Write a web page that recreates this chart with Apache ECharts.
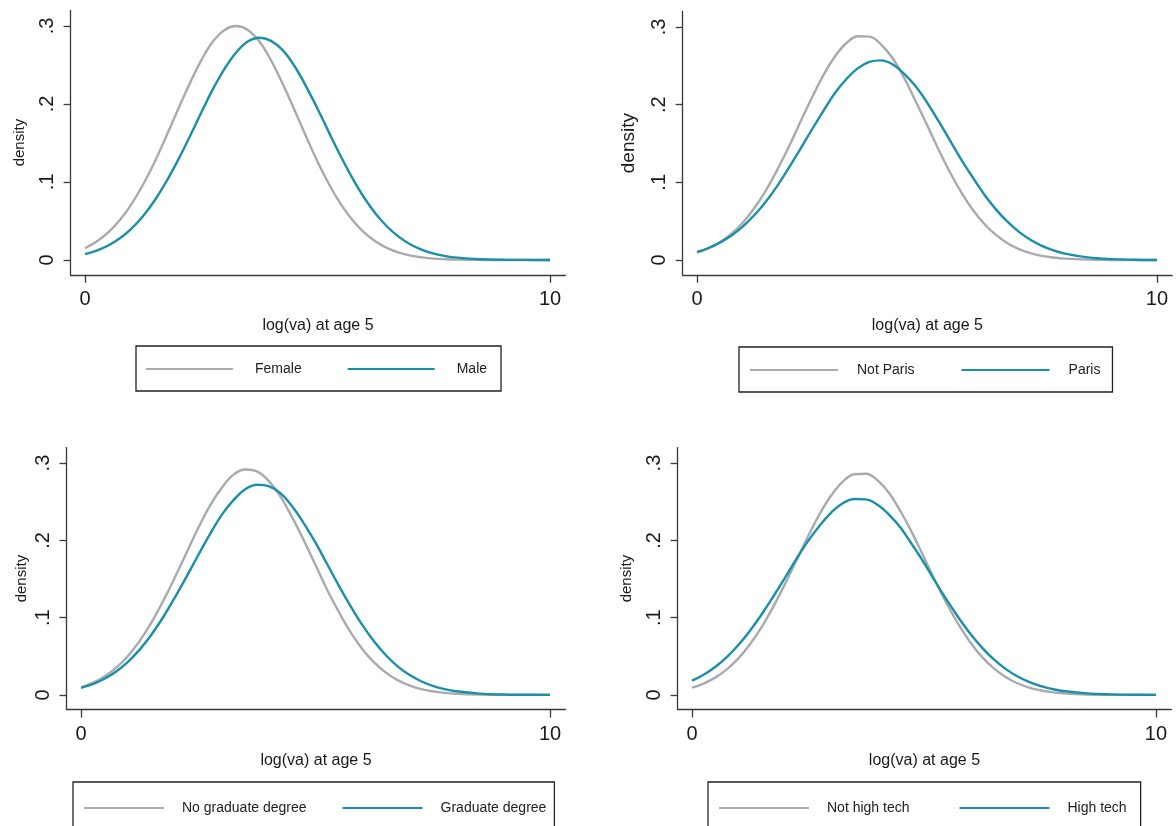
<!DOCTYPE html>
<html>
<head>
<meta charset="utf-8">
<script src="https://cdn.jsdelivr.net/npm/echarts@6/dist/echarts.min.js"></script>
<style>
html,body{margin:0;padding:0;background:#fff;}
#chart{width:1176px;height:826px;}
</style>
</head>
<body>
<div id="chart"></div>
<script>
// ---- data ----
const xs = [0,0.25,0.5,0.75,1,1.25,1.5,1.75,2,2.25,2.5,2.75,3,3.25,3.5,3.75,4,4.25,4.5,4.75,5,5.25,5.5,5.75,6,6.25,6.5,6.75,7,7.25,7.5,7.75,8,8.5,9,9.5,10];

const female      = [0.0152,0.0236,0.0354,0.0513,0.0717,0.0968,0.126,0.159,0.193,0.226,0.256,0.280,0.295,0.300,0.295,0.280,0.256,0.226,0.193,0.159,0.126,0.0968,0.0717,0.0513,0.0354,0.0236,0.0152,0.0094,0.0056,0.0033,0.0018,0.0010,0.0005,0.0001,0,0,0];
const male        = [0.0076,0.0121,0.0186,0.0278,0.0403,0.0564,0.0766,0.1006,0.128,0.158,0.189,0.219,0.245,0.266,0.280,0.285,0.281,0.269,0.249,0.223,0.194,0.163,0.133,0.105,0.0801,0.0593,0.0426,0.0296,0.0199,0.0130,0.0082,0.0050,0.0030,0.0009,0.0003,0.0001,0];
const notParis    = [0.0095,0.0149,0.0228,0.0338,0.0484,0.0670,0.0898,0.1165,0.146,0.178,0.209,0.238,0.262,0.2793,0.2881,0.2875,0.2777,0.260,0.235,0.205,0.174,0.1427,0.113,0.0868,0.0645,0.0464,0.0323,0.0217,0.0141,0.0089,0.0054,0.0032,0.0018,0.0005,0.0001,0,0];
const paris       = [0.0104,0.0155,0.0224,0.0315,0.0433,0.0579,0.0754,0.0958,0.119,0.143,0.168,0.192,0.215,0.233,0.247,0.255,0.257,0.252,0.240,0.224,0.203,0.179,0.154,0.129,0.106,0.0841,0.0652,0.0493,0.0363,0.0261,0.0182,0.0124,0.0083,0.0034,0.0012,0.0004,0.0001];
const noGrad      = [0.0098,0.0155,0.0237,0.0352,0.0504,0.0699,0.0936,0.1214,0.152,0.184,0.216,0.245,0.268,0.285,0.2917,0.2892,0.277,0.257,0.230,0.200,0.168,0.1358,0.107,0.0808,0.0592,0.0420,0.0288,0.0191,0.0123,0.0076,0.0046,0.0026,0.0015,0.0004,0.0001,0,0];
const grad        = [0.0092,0.0141,0.0210,0.0304,0.0429,0.0586,0.0779,0.1005,0.126,0.153,0.181,0.208,0.233,0.252,0.266,0.272,0.270,0.261,0.244,0.222,0.197,0.169,0.141,0.1145,0.0902,0.0690,0.0513,0.0370,0.0260,0.0177,0.0117,0.0075,0.0047,0.0017,0.0005,0.0002,0];
const notHighTech = [0.0093,0.0147,0.0224,0.0331,0.0472,0.0655,0.0877,0.1139,0.143,0.174,0.205,0.234,0.258,0.2759,0.2856,0.2861,0.2775,0.261,0.237,0.209,0.178,0.1467,0.117,0.0907,0.0679,0.0492,0.0346,0.0235,0.0154,0.0098,0.0061,0.0036,0.0021,0.0006,0.0002,0,0];
const highTech    = [0.0184,0.0262,0.0362,0.0490,0.0646,0.0830,0.104,0.127,0.151,0.176,0.199,0.219,0.236,0.248,0.2535,0.253,0.246,0.233,0.216,0.194,0.171,0.146,0.122,0.0996,0.0791,0.0612,0.0462,0.0340,0.0244,0.0171,0.0117,0.0078,0.0050,0.0020,0.0007,0.0002,0.0001];

const seriesNames = [
  ['Female','Male'],
  ['Not Paris','Paris'],
  ['No graduate degree','Graduate degree'],
  ['Not high tech','High tech']
];
const seriesValues = [[female,male],[notParis,paris],[noGrad,grad],[notHighTech,highTech]];

const xTicks = [0,10];
const xTickLabels = ['0','10'];
const yTicks = [0,0.1,0.2,0.3];
const yTickLabels = ['0','.1','.2','.3'];
const xTitle = 'log(va) at age 5';
const yTitle = 'density';

// ---- layout / style ----
const FONT = "'Liberation Sans', Arial, Helvetica, sans-serif";
const GRAY = '#a7abaf';
const TEAL = '#1a90a8';
const X_MIN = -0.31, X_MAX = 10.33, Y_MIN = -0.019, Y_MAX = 0.32;

const grids = [
  {left:70.6, top:10.4, width:494.8, height:264.4},
  {left:682.7, top:11.4, width:489.4, height:263.4},
  {left:66.5, top:447.6, width:499.0, height:262.0},
  {left:677.6, top:447.6, width:493.7, height:262.0}
];
const yNameStyle = [
  {size:15, gap:43},
  {size:19, gap:44},
  {size:15, gap:37},
  {size:15, gap:43}
];
const legends = [
  {left:136, top:346, padding:[16,14,15,10], itemWidth:87, itemGap:46, textPad:17},
  {left:739, top:347, padding:[16,12,15,11], itemWidth:88, itemGap:47, textPad:14},
  {left:73,  top:782, padding:[19,8,15,11],  itemWidth:80, itemGap:36, textPad:13},
  {left:708, top:782, padding:[19,14,15,11], itemWidth:90, itemGap:50, textPad:13}
];

function labelOf(list, labels, v){
  for (let i=0;i<list.length;i++){ if (Math.abs(list[i]-v)<1e-9) return labels[i]; }
  return '';
}

const option = {
  backgroundColor:'#ffffff',
  animation:false,
  textStyle:{fontFamily:FONT},
  grid:[], xAxis:[], yAxis:[], series:[], legend:[]
};

for (let p=0;p<4;p++){
  option.grid.push(Object.assign({containLabel:false}, grids[p]));
  option.xAxis.push({
    type:'value', gridIndex:p, min:X_MIN, max:X_MAX,
    name:xTitle, nameLocation:'middle', nameGap:43,
    nameTextStyle:{fontSize:16, color:'#1a1a1a', fontFamily:FONT},
    axisLine:{show:true, onZero:false, lineStyle:{color:'#3a3a3a', width:1.3}},
    axisTick:{show:true, length:8, customValues:xTicks, lineStyle:{color:'#3a3a3a', width:1.3}},
    axisLabel:{customValues:xTicks, margin:15, fontSize:20, color:'#1a1a1a', fontFamily:FONT,
      formatter:v=>labelOf(xTicks,xTickLabels,v)},
    splitLine:{show:false}
  });
  option.yAxis.push({
    type:'value', gridIndex:p, min:Y_MIN, max:Y_MAX,
    name:yTitle, nameLocation:'middle', nameGap:yNameStyle[p].gap,
    nameTextStyle:{fontSize:yNameStyle[p].size, color:'#1a1a1a', fontFamily:FONT},
    axisLine:{show:true, onZero:false, lineStyle:{color:'#3a3a3a', width:1.3}},
    axisTick:{show:true, length:7, customValues:yTicks, lineStyle:{color:'#3a3a3a', width:1.3}},
    axisLabel:{customValues:yTicks, rotate:90, margin:13, fontSize:20, color:'#1a1a1a', fontFamily:FONT,
      formatter:v=>labelOf(yTicks,yTickLabels,v)},
    splitLine:{show:false}
  });
  const cols = [GRAY, TEAL];
  for (let s=0;s<2;s++){
    option.series.push({
      type:'line', name:seriesNames[p][s], xAxisIndex:p, yAxisIndex:p,
      data: xs.map((x,i)=>[x, seriesValues[p][s][i]]),
      smooth:0.4, symbol:'none', showSymbol:false,
      lineStyle:{color:cols[s], width:2.4}, itemStyle:{color:cols[s]},
      z: 2+s
    });
  }
  const L = legends[p];
  option.legend.push({
    data:seriesNames[p], orient:'horizontal', icon:'rect',
    left:L.left, top:L.top, padding:L.padding,
    itemWidth:L.itemWidth, itemHeight:2, itemGap:L.itemGap,
    borderColor:'#222', borderWidth:1.3, backgroundColor:'#fff',
    selectedMode:false,
    textStyle:{fontSize:14, color:'#222', fontFamily:FONT, padding:[0,0,0,L.textPad], lineHeight:14}
  });
}

const chart = echarts.init(document.getElementById('chart'), null, {renderer:'canvas'});
chart.setOption(option);
</script>
</body>
</html>
